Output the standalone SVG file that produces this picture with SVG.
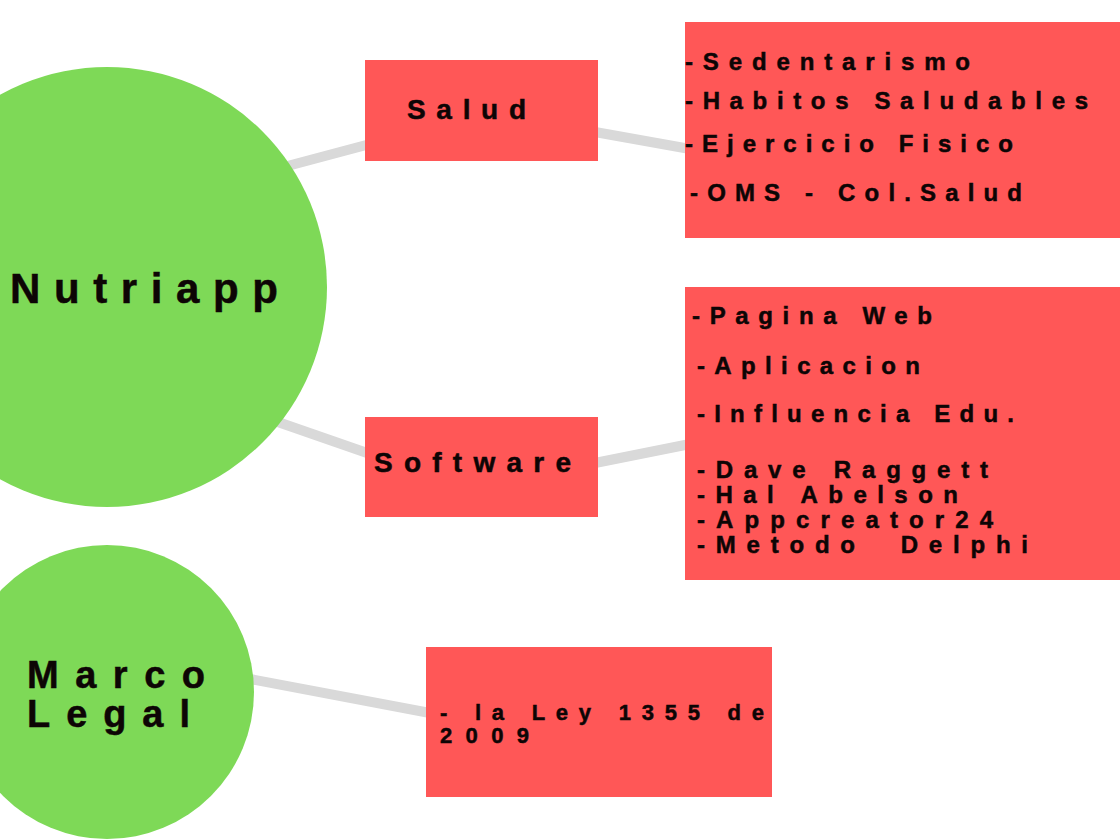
<svg xmlns="http://www.w3.org/2000/svg" width="1120" height="840" viewBox="0 0 1120 840">
<style>
.conn{stroke:#d9d9d9;stroke-width:10;fill:none}
.green{fill:#7ed957}
.red{fill:#ff5757}
.t{font-family:"Liberation Sans",Arial,sans-serif;font-weight:bold;fill:#0d0505;stroke:#0d0505;stroke-width:0.5}
.big{font-size:42px}
.ml{font-size:38px}
.mid{font-size:28px}
.sm{font-size:24px}
.xs{font-size:22px}
</style>
<rect width="1120" height="840" fill="#ffffff"/>
<g id="connectors">
<line class="conn" x1="280" y1="168" x2="370" y2="144"/>
<line class="conn" x1="595" y1="132" x2="690" y2="149"/>
<line class="conn" x1="275" y1="421" x2="370" y2="454"/>
<line class="conn" x1="595" y1="463" x2="690" y2="444"/>
<line class="conn" x1="250" y1="679" x2="430" y2="713"/>
</g>
<g id="nutriapp">
<circle class="green" cx="107" cy="287" r="220"/>
<text class="t big" x="10" y="303" textLength="268" lengthAdjust="spacing">Nutriapp</text>
</g>
<g id="salud">
<rect class="red" x="365" y="60" width="233" height="101"/>
<text class="t mid" x="407" y="119" textLength="119" lengthAdjust="spacing">Salud</text>
</g>
<g id="software">
<rect class="red" x="365" y="417" width="233" height="100"/>
<text class="t mid" x="374" y="472" textLength="197" lengthAdjust="spacing">Software</text>
</g>
<g id="salud-list">
<rect class="red" x="685" y="22" width="435" height="216"/>
<text class="t sm" x="685" y="70" textLength="285" lengthAdjust="spacing">-Sedentarismo</text>
<text class="t sm" x="685" y="109" textLength="403" lengthAdjust="spacing">-Habitos Saludables</text>
<text class="t sm" x="685" y="152" textLength="328" lengthAdjust="spacing">-Ejercicio Fisico</text>
<text class="t sm" x="690" y="201" textLength="332" lengthAdjust="spacing">-OMS - Col.Salud</text>
</g>
<g id="software-list">
<rect class="red" x="685" y="287" width="435" height="293"/>
<text class="t sm" x="692" y="324" textLength="240" lengthAdjust="spacing">-Pagina Web</text>
<text class="t sm" x="697" y="374" textLength="223" lengthAdjust="spacing">-Aplicacion</text>
<text class="t sm" x="697" y="422" textLength="317" lengthAdjust="spacing">-Influencia Edu.</text>
<text class="t sm" x="697" y="478" textLength="291" lengthAdjust="spacing">-Dave Raggett</text>
<text class="t sm" x="697" y="503" textLength="261" lengthAdjust="spacing">-Hal Abelson</text>
<text class="t sm" x="697" y="528" textLength="296" lengthAdjust="spacing">-Appcreator24</text>
<text class="t sm" x="697" y="553" textLength="331" lengthAdjust="spacing" xml:space="preserve">-Metodo  Delphi</text>
</g>
<g id="marco-legal">
<circle class="green" cx="107" cy="692" r="147"/>
<text class="t ml" x="27" y="688" textLength="178" lengthAdjust="spacing">Marco</text>
<text class="t ml" x="27" y="727" textLength="163" lengthAdjust="spacing">Legal</text>
</g>
<g id="ley">
<rect class="red" x="426" y="647" width="346" height="150"/>
<text class="t xs" x="440" y="720" textLength="324" lengthAdjust="spacing">- la Ley 1355 de</text>
<text class="t xs" x="440" y="743" textLength="89" lengthAdjust="spacing">2009</text>
</g>
</svg>
